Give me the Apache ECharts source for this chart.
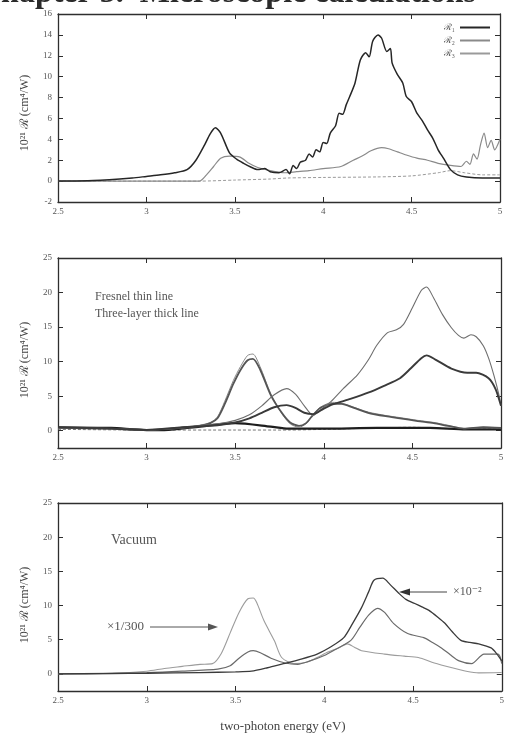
<!DOCTYPE html>
<html>
<head>
<meta charset="utf-8">
<script src="https://cdn.jsdelivr.net/npm/echarts@6/dist/echarts.min.js"></script>
<style>
  html, body { margin: 0; padding: 0; background: #ffffff; }
  #chart { width: 507px; height: 736px; }
</style>
</head>
<body>
<div id="chart"></div>
<script>
// ---- Axis ticks ----
const energyTicks = [2.5, 3, 3.5, 4, 4.5, 5];
const topYTicks = [-2, 0, 2, 4, 6, 8, 10, 12, 14, 16];
const lowerYTicks = [0, 5, 10, 15, 20, 25];

// ---- Top panel: three tensor components ----
const topNames = ['ℛ₁', 'ℛ₂', 'ℛ₃'];
const top1E = [2.5, 2.7, 2.92, 3.0, 3.08, 3.16, 3.23, 3.28, 3.33, 3.36, 3.39, 3.42, 3.47, 3.51, 3.55, 3.59, 3.63, 3.67, 3.7, 3.75, 3.79, 3.81, 3.83, 3.85, 3.87, 3.9, 3.92, 3.94, 3.96, 3.98, 4.0, 4.02, 4.04, 4.07, 4.09, 4.11, 4.13, 4.15, 4.18, 4.21, 4.24, 4.26, 4.28, 4.31, 4.33, 4.36, 4.38, 4.39, 4.42, 4.45, 4.47, 4.5, 4.53, 4.56, 4.59, 4.62, 4.65, 4.68, 4.72, 4.76, 4.81, 4.9, 5.0];
const top1V = [0, 0.05, 0.3, 0.45, 0.6, 0.8, 1.1, 2.0, 3.5, 4.5, 5.1, 4.6, 2.7, 2.1, 1.7, 1.35, 1.1, 1.2, 0.9, 0.8, 1.1, 0.7, 1.5, 1.2, 1.8, 2.0, 2.6, 2.3, 3.0, 2.8, 3.7, 3.6, 4.6, 5.3, 6.5, 6.4, 7.3, 8.1, 9.4, 11.6, 12.3, 11.9, 13.4, 14.0, 13.7, 12.4, 12.7, 11.3, 10.2, 9.4, 8.1, 7.6, 6.5, 5.8, 4.9, 4.1, 3.0, 2.2, 1.1, 0.6, 0.4, 0.3, 0.3];
const top2E = [2.5, 3.0, 3.3, 3.34, 3.38, 3.42, 3.47, 3.53, 3.58, 3.63, 3.7, 3.78, 3.85, 3.92, 4.0, 4.1, 4.17, 4.22, 4.27, 4.33, 4.37, 4.42, 4.47, 4.53, 4.59, 4.65, 4.72, 4.78, 4.81, 4.83, 4.85, 4.87, 4.89, 4.91, 4.93, 4.95, 4.97, 5.0];
const top2V = [0, 0, 0, 0.6, 1.4, 2.2, 2.4, 2.3, 1.7, 1.3, 1.0, 0.8, 0.9, 1.0, 1.2, 1.4, 2.0, 2.4, 2.9, 3.2, 3.1, 2.8, 2.5, 2.2, 2.0, 1.7, 1.5, 1.4, 1.9, 1.6, 2.6, 2.1, 3.5, 4.6, 3.2, 3.9, 3.0, 4.0];
const top3E = [2.5, 3.0, 3.3, 3.5, 3.7, 3.8, 4.0, 4.3, 4.5, 4.65, 4.72, 4.8, 4.9, 5.0];
const top3V = [0, 0, 0, 0.1, 0.2, 0.3, 0.35, 0.4, 0.5, 0.8, 1.0, 0.8, 0.6, 0.6];

// ---- Middle panel: Fresnel (thin) vs three-layer (thick) ----
const midAThinE = [2.5, 2.8, 3.0, 3.2, 3.3, 3.36, 3.4, 3.44, 3.49, 3.53, 3.57, 3.6, 3.64, 3.7, 3.76, 3.81, 3.86, 3.9, 3.93, 3.98, 4.05, 4.1, 4.17, 4.25, 4.35, 4.43, 4.53, 4.62, 4.7, 4.79, 4.9, 5.0];
const midAThinV = [0.4, 0.3, 0.1, 0.4, 0.8, 1.2, 2.0, 4.2, 7.3, 9.3, 10.9, 11.1, 9.3, 5.4, 2.6, 1.0, 0.5, 1.0, 2.0, 3.4, 4.1, 4.0, 3.4, 2.7, 2.2, 1.9, 1.5, 1.2, 0.8, 0.3, 0.5, 0.4];
const midAThickE = [2.5, 2.8, 3.0, 3.2, 3.3, 3.36, 3.4, 3.44, 3.49, 3.53, 3.57, 3.6, 3.64, 3.7, 3.76, 3.81, 3.86, 3.9, 3.93, 3.98, 4.05, 4.1, 4.17, 4.25, 4.35, 4.43, 4.53, 4.62, 4.7, 4.79, 4.9, 5.0];
const midAThickV = [0.4, 0.3, 0.1, 0.4, 0.7, 1.1, 1.8, 3.8, 6.8, 8.8, 10.2, 10.4, 8.9, 5.2, 2.7, 1.2, 0.7, 1.1, 2.0, 3.3, 3.9, 3.9, 3.3, 2.6, 2.1, 1.8, 1.4, 1.1, 0.7, 0.3, 0.5, 0.4];
const midBThinE = [2.5, 2.8, 3.0, 3.2, 3.4, 3.5, 3.58, 3.65, 3.72, 3.79, 3.84, 3.89, 3.94, 3.99, 4.04, 4.11, 4.19, 4.25, 4.3, 4.36, 4.41, 4.45, 4.5, 4.55, 4.58, 4.62, 4.67, 4.72, 4.76, 4.79, 4.83, 4.86, 4.9, 4.93, 4.96, 4.99, 5.0];
const midBThinV = [0.4, 0.3, 0.1, 0.5, 1.0, 1.5, 2.3, 3.6, 5.2, 6.1, 5.3, 3.6, 2.2, 3.2, 4.2, 6.1, 8.1, 10.2, 12.4, 14.2, 14.6, 15.4, 17.8, 20.3, 20.8, 19.2, 16.8, 14.9, 13.8, 13.4, 13.9, 13.6, 12.3, 10.5, 8.0, 5.0, 3.6];
const midBThickE = [2.5, 2.8, 3.0, 3.2, 3.4, 3.5, 3.58, 3.65, 3.72, 3.79, 3.84, 3.89, 3.94, 4.0, 4.05, 4.1, 4.15, 4.25, 4.34, 4.43, 4.49, 4.55, 4.58, 4.63, 4.72, 4.81, 4.86, 4.93, 4.97, 5.0];
const midBThickV = [0.5, 0.3, 0.1, 0.5, 0.8, 1.2, 1.8, 2.6, 3.4, 3.7, 3.3, 2.6, 2.4, 3.2, 3.8, 4.2, 4.6, 5.5, 6.5, 7.6, 9.0, 10.5, 10.9, 10.3, 9.0, 8.4, 8.4, 7.6, 6.0, 3.6];
const midCThinE = [2.5, 3.0, 3.5, 3.8, 4.0, 4.3, 4.5, 4.7, 4.85, 5.0];
const midCThinV = [0.2, 0.1, 0.1, 0.1, 0.2, 0.4, 0.5, 0.3, 0.2, 0.3];
const midCThickE = [2.5, 2.8, 3.0, 3.1, 3.3, 3.5, 3.7, 3.8, 4.0, 4.3, 4.6, 4.8, 5.0];
const midCThickV = [0.5, 0.4, 0.1, 0.1, 0.6, 1.1, 0.6, 0.3, 0.3, 0.4, 0.4, 0.2, 0.2];

// ---- Bottom panel: vacuum ----
const botFE = [2.5, 2.8, 3.0, 3.1, 3.2, 3.3, 3.37, 3.42, 3.47, 3.52, 3.57, 3.6, 3.62, 3.66, 3.72, 3.76, 3.83, 3.9, 3.96, 4.02, 4.08, 4.13, 4.17, 4.21, 4.34, 4.45, 4.53, 4.62, 4.72, 4.8, 4.87, 5.0];
const botFV = [0, 0.1, 0.4, 0.8, 1.1, 1.4, 1.5, 3.0, 6.0, 9.0, 11.0, 11.1, 10.4, 7.8, 4.8, 2.4, 1.5, 1.7, 2.4, 3.2, 3.8, 4.4, 3.9, 3.4, 2.9, 2.6, 2.4, 1.6, 0.9, 0.4, 0.15, 0.2];
const botGE = [2.5, 2.8, 3.0, 3.3, 3.5, 3.59, 3.68, 3.77, 3.86, 3.96, 4.04, 4.11, 4.16, 4.21, 4.25, 4.28, 4.33, 4.37, 4.42, 4.46, 4.51, 4.55, 4.59, 4.64, 4.68, 4.72, 4.77, 4.82, 4.87, 4.94, 4.97, 5.0];
const botGV = [0, 0.05, 0.1, 0.2, 0.3, 0.4, 0.9, 1.5, 2.1, 2.9, 4.0, 5.3, 7.4, 9.7, 12.0, 13.7, 14.0, 13.1, 11.8, 10.9, 10.3, 9.8, 9.3, 8.3, 7.4, 6.2, 4.9, 4.6, 4.4, 3.8, 3.0, 1.9];
const botHE = [2.5, 3.0, 3.2, 3.4, 3.47, 3.52, 3.57, 3.6, 3.64, 3.7, 3.78, 3.85, 3.92, 4.0, 4.05, 4.15, 4.2, 4.25, 4.3, 4.34, 4.39, 4.47, 4.56, 4.61, 4.66, 4.71, 4.76, 4.83, 4.9, 4.98, 5.0];
const botHV = [0, 0.2, 0.4, 0.7, 1.2, 2.3, 3.2, 3.4, 3.1, 2.3, 1.6, 1.4, 1.9, 2.7, 3.4, 4.9, 6.8, 8.6, 9.6, 9.0, 7.4, 5.9, 5.3, 4.6, 3.8, 2.8, 1.9, 1.5, 2.9, 2.9, 1.5];

// ---- Styling ----
const SERIF = '"Liberation Serif", "DejaVu Serif", serif';
const FRAME = '#2e2e2e';
const TICK_TXT = '#555';

const zip = (xs, ys) => xs.map((x, i) => [x, ys[i]]);

const grids = [
  { left: 58, top: 14, right: 7, height: 188 },
  { left: 58, top: 258, right: 6, height: 190 },
  { left: 58, top: 503, right: 5, height: 188 }
];

const xAxes = [];
const yAxes = [];
grids.forEach((g, gi) => {
  const base = {
    type: 'value', gridIndex: gi, min: 2.5, max: 5, interval: 0.5,
    splitLine: { show: false },
    axisLine: { onZero: false, lineStyle: { color: FRAME, width: 1.3 } },
    axisTick: { inside: true, length: 5, lineStyle: { color: FRAME } }
  };
  xAxes.push(Object.assign({}, base, {
    position: 'bottom',
    axisLabel: { fontFamily: SERIF, fontSize: 9, color: TICK_TXT, margin: 5,
                 formatter: v => energyTicks.includes(v) ? String(v) : '' }
  }));
  xAxes.push(Object.assign({}, base, { position: 'top', axisLabel: { show: false } }));

  const mk = (pos, showLabel) => {
    const ax = {
      type: 'value', gridIndex: gi, position: pos,
      splitLine: { show: false },
      axisLine: { onZero: false, lineStyle: { color: FRAME, width: 1.3 } },
      axisTick: { inside: true, length: 5, lineStyle: { color: FRAME } },
      axisLabel: { show: showLabel, fontFamily: SERIF, fontSize: 9, color: TICK_TXT, margin: 6 }
    };
    if (gi === 0) {
      ax.min = topYTicks[0];
      ax.max = topYTicks[topYTicks.length - 1];
      ax.interval = 2;
    } else {
      ax.min = -2.5;
      ax.max = 25;
      ax.axisTick.customValues = lowerYTicks;
      ax.axisLabel.customValues = lowerYTicks;
    }
    return ax;
  };
  yAxes.push(mk('left', true));
  yAxes.push(mk('right', false));
});

function line(name, gi, xs, ys, color, width, type) {
  return {
    name, type: 'line', xAxisIndex: gi * 2, yAxisIndex: gi * 2,
    data: zip(xs, ys), showSymbol: false, symbol: 'none', smooth: 0.25,
    lineStyle: { color, width, type: type || 'solid' }, itemStyle: { color },
    z: 3, silent: true, animation: false
  };
}

const series = [
  // top
  line(topNames[2], 0, top3E, top3V, '#9a9a9a', 1.0, [3, 2]),
  line(topNames[1], 0, top2E, top2V, '#8a8a8a', 1.2),
  line(topNames[0], 0, top1E, top1V, '#262626', 1.5),
  // middle
  line('C thin', 1, midCThinE, midCThinV, '#777', 1.0, [3, 2]),
  line('C thick', 1, midCThickE, midCThickV, '#1e1e1e', 2.2),
  line('A thin', 1, midAThinE, midAThinV, '#8a8a8a', 1.0),
  line('A thick', 1, midAThickE, midAThickV, '#555', 1.8),
  line('B thin', 1, midBThinE, midBThinV, '#6e6e6e', 1.1),
  line('B thick', 1, midBThickE, midBThickV, '#3a3a3a', 1.9),
  // bottom
  line('×1/300', 2, botFE, botFV, '#9c9c9c', 1.1),
  line('H', 2, botHE, botHV, '#6a6a6a', 1.2),
  line('×10⁻²', 2, botGE, botGV, '#3a3a3a', 1.3)
];

const txt = (text, x, y, opts) => ({
  type: 'text', x, y, silent: true,
  style: Object.assign({ text, fontFamily: SERIF, fontSize: 12, fill: '#444' }, opts || {})
});

const yTitle = '10²¹ ℛ (cm⁴/W)';
const graphic = [
  // running header of the page, cut by the top edge
  txt('Chapter 5.  Microscopic calculations', -22, -22,
      { fontSize: 32, fill: '#2a2a2a', fontWeight: 'bold', verticalAlign: 'top' }),
  // rotated axis titles
  Object.assign(txt(yTitle, 25, 113, { fontSize: 12, align: 'center', verticalAlign: 'middle' }), { rotation: Math.PI / 2 }),
  Object.assign(txt(yTitle, 25, 360, { fontSize: 12, align: 'center', verticalAlign: 'middle' }), { rotation: Math.PI / 2 }),
  Object.assign(txt(yTitle, 25, 605, { fontSize: 12, align: 'center', verticalAlign: 'middle' }), { rotation: Math.PI / 2 }),
  // middle panel key
  txt('Fresnel thin line', 95, 297, { fontSize: 12, verticalAlign: 'middle', fill: '#555' }),
  txt('Three-layer thick line', 95, 314, { fontSize: 12, verticalAlign: 'middle', fill: '#555' }),
  // bottom panel annotations
  txt('Vacuum', 111, 540, { fontSize: 14, verticalAlign: 'middle', fill: '#555' }),
  txt('×1/300', 107, 627, { fontSize: 13, verticalAlign: 'middle', fill: '#555' }),
  { type: 'line', silent: true, shape: { x1: 150, y1: 627, x2: 214, y2: 627 },
    style: { stroke: '#555', lineWidth: 1 } },
  { type: 'polygon', silent: true, shape: { points: [[218, 627], [208, 623.5], [208, 630.5]] },
    style: { fill: '#555' } },
  txt('×10⁻²', 453, 592, { fontSize: 12, verticalAlign: 'middle', fill: '#555' }),
  { type: 'line', silent: true, shape: { x1: 447, y1: 592, x2: 404, y2: 592 },
    style: { stroke: '#444', lineWidth: 1 } },
  { type: 'polygon', silent: true, shape: { points: [[399, 592], [410, 588.5], [410, 595.5]] },
    style: { fill: '#333' } },
  // shared x-axis title
  txt('two-photon energy (eV)', 283, 727, { fontSize: 13, align: 'center', verticalAlign: 'middle', fill: '#444' })
];

const chart = echarts.init(document.getElementById('chart'), null, { renderer: 'canvas' });
chart.setOption({
  backgroundColor: '#ffffff',
  animation: false,
  grid: grids,
  xAxis: xAxes,
  yAxis: yAxes,
  legend: {
    data: topNames, orient: 'vertical', right: 12, top: 18,
    align: 'right', itemWidth: 30, itemHeight: 2, itemGap: 4,
    icon: 'rect', selectedMode: false,
    textStyle: { fontFamily: SERIF, fontSize: 9, color: '#555' }
  },
  series,
  graphic
});
</script>
</body>
</html>
